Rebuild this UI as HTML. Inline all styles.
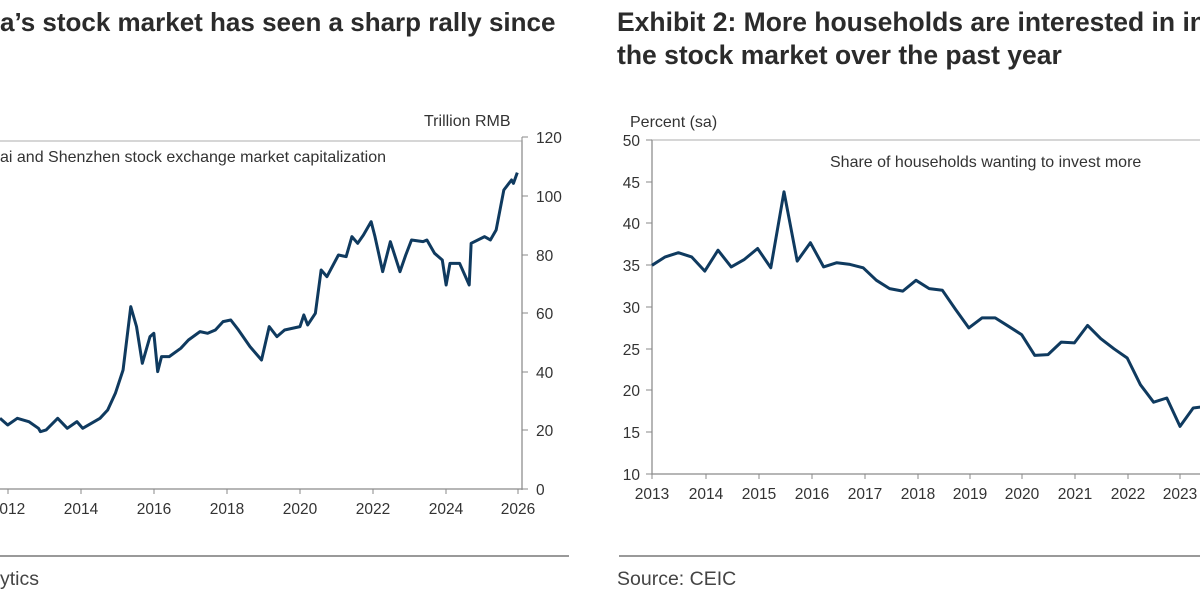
<!DOCTYPE html>
<html><head><meta charset="utf-8"><style>
html,body{margin:0;padding:0;background:#fff;width:1200px;height:600px;overflow:hidden}
svg{display:block}
</style></head><body>
<svg width="1200" height="600" viewBox="0 0 1200 600" xmlns="http://www.w3.org/2000/svg" font-family="Liberation Sans, Arial, sans-serif">
<rect width="1200" height="600" fill="#fff"/>
<g font-weight="bold" font-size="26" fill="#2b2b2b">
<text x="0" y="31">a’s stock market has seen a sharp rally since</text>
<text x="617" y="31" font-size="26.5">Exhibit 2: More households are interested in in</text>
<text x="617" y="64" font-size="26.5">the stock market over the past year</text>
</g>
<rect x="-2" y="141" width="524" height="348" fill="none" stroke="#c8c8c8" stroke-width="1.5"/>
<line x1="522" y1="137" x2="522" y2="490" stroke="#888" stroke-width="1"/>
<line x1="-2" y1="489" x2="522" y2="489" stroke="#888" stroke-width="1"/>
<g stroke="#888" stroke-width="1">
<line x1="522" y1="489" x2="528" y2="489"/><line x1="522" y1="430" x2="528" y2="430"/><line x1="522" y1="372" x2="528" y2="372"/><line x1="522" y1="313" x2="528" y2="313"/><line x1="522" y1="255" x2="528" y2="255"/><line x1="522" y1="196" x2="528" y2="196"/><line x1="522" y1="137" x2="528" y2="137"/>
<line x1="8" y1="489" x2="8" y2="494"/><line x1="81" y1="489" x2="81" y2="494"/><line x1="154" y1="489" x2="154" y2="494"/><line x1="227" y1="489" x2="227" y2="494"/><line x1="300" y1="489" x2="300" y2="494"/><line x1="373" y1="489" x2="373" y2="494"/><line x1="446" y1="489" x2="446" y2="494"/><line x1="518" y1="489" x2="518" y2="494"/>
</g>
<g font-size="15.5" fill="#333">
<text x="536" y="495">0</text><text x="536" y="436">20</text><text x="536" y="378">40</text><text x="536" y="319">60</text><text x="536" y="261">80</text><text x="536" y="202">100</text><text x="536" y="143">120</text>
<g text-anchor="middle"><text x="8" y="514">2012</text><text x="81" y="514">2014</text><text x="154" y="514">2016</text><text x="227" y="514">2018</text><text x="300" y="514">2020</text><text x="373" y="514">2022</text><text x="446" y="514">2024</text><text x="518" y="514">2026</text></g>
<text x="424" y="126" font-size="16">Trillion RMB</text>
<text x="0" y="162" font-size="16">ai and Shenzhen stock exchange market capitalization</text>
</g>
<g transform="translate(0,100) scale(0.3846,0.3333)">
<polyline vector-effect="non-scaling-stroke" fill="none" stroke="#0f3a5f" stroke-width="3" stroke-linejoin="round" points="0,955 20,975 45,955 75,965 100,985 105,995 120,990 150,955 175,985 200,965 215,985 260,955 280,930 300,880 320,810 340,620 355,680 370,790 390,710 400,700 410,815 420,770 440,770 470,745 490,720 520,695 540,700 560,690 580,665 600,660 620,690 650,740 680,780 700,680 720,710 740,690 780,680 790,645 800,675 820,640 835,510 850,530 880,465 900,470 915,410 930,430 945,405 965,365 975,410 995,515 1015,425 1040,515 1055,465 1070,420 1100,425 1110,420 1130,460 1150,480 1160,555 1170,490 1195,490 1220,555 1225,430 1260,410 1275,420 1290,390 1310,270 1330,240 1335,250 1345,218"/>
</g>
<rect x="652" y="140" width="560" height="334" fill="none" stroke="#c8c8c8" stroke-width="1.5"/>
<line x1="652" y1="140" x2="652" y2="474" stroke="#888"/>
<line x1="652" y1="474" x2="1200" y2="474" stroke="#888"/>
<g stroke="#888">
<line x1="646" y1="140" x2="652" y2="140"/><line x1="646" y1="182" x2="652" y2="182"/><line x1="646" y1="223" x2="652" y2="223"/><line x1="646" y1="265" x2="652" y2="265"/><line x1="646" y1="307" x2="652" y2="307"/><line x1="646" y1="349" x2="652" y2="349"/><line x1="646" y1="390" x2="652" y2="390"/><line x1="646" y1="432" x2="652" y2="432"/><line x1="646" y1="474" x2="652" y2="474"/>
<line x1="652" y1="474" x2="652" y2="479"/><line x1="706" y1="474" x2="706" y2="479"/><line x1="759" y1="474" x2="759" y2="479"/><line x1="812" y1="474" x2="812" y2="479"/><line x1="865" y1="474" x2="865" y2="479"/><line x1="918" y1="474" x2="918" y2="479"/><line x1="970" y1="474" x2="970" y2="479"/><line x1="1022" y1="474" x2="1022" y2="479"/><line x1="1075" y1="474" x2="1075" y2="479"/><line x1="1128" y1="474" x2="1128" y2="479"/><line x1="1180" y1="474" x2="1180" y2="479"/>
</g>
<g font-size="15.5" fill="#333">
<g text-anchor="end"><text x="640" y="146">50</text><text x="640" y="188">45</text><text x="640" y="229">40</text><text x="640" y="271">35</text><text x="640" y="313">30</text><text x="640" y="355">25</text><text x="640" y="396">20</text><text x="640" y="438">15</text><text x="640" y="480">10</text></g>
<g text-anchor="middle"><text x="652" y="499">2013</text><text x="706" y="499">2014</text><text x="759" y="499">2015</text><text x="812" y="499">2016</text><text x="865" y="499">2017</text><text x="918" y="499">2018</text><text x="970" y="499">2019</text><text x="1022" y="499">2020</text><text x="1075" y="499">2021</text><text x="1128" y="499">2022</text><text x="1180" y="499">2023</text></g>
<text x="630" y="127" font-size="16">Percent (sa)</text>
<text x="830" y="167" font-size="16">Share of households wanting to invest more</text>
</g>
<polyline fill="none" stroke="#0f3a5f" stroke-width="3" stroke-linejoin="round" points="652,265.3 665.2,256.9 678.4,252.7 691.6,256.9 704.8,271.1 718,250.2 731.2,266.9 744.4,259.4 757.6,248.5 770.8,267.8 784,191.8 797.2,261.1 810.4,242.7 823.6,266.9 836.8,262.7 850,264.4 863.2,267.8 876.4,280.3 889.6,288.6 902.8,291.1 916,280.3 929.2,288.6 942.4,290.3 955.6,309.5 968.8,327.9 982,317.9 995.2,317.9 1008.4,326.2 1021.6,334.6 1034.8,355.4 1048,354.6 1061.2,342.1 1074.4,342.9 1087.6,325.4 1100.8,338.7 1114,348.8 1127.2,358 1140.4,384.7 1153.6,402.2 1166.8,398 1180,426.4 1193.2,408 1206.4,406.4"/>
<line x1="0" y1="556" x2="569" y2="556" stroke="#999" stroke-width="2"/>
<line x1="619" y1="556" x2="1200" y2="556" stroke="#999" stroke-width="2"/>
<g font-size="19.5" fill="#444"><text x="0" y="585">ytics</text><text x="617" y="585">Source: CEIC</text></g>
</svg>
</body></html>
